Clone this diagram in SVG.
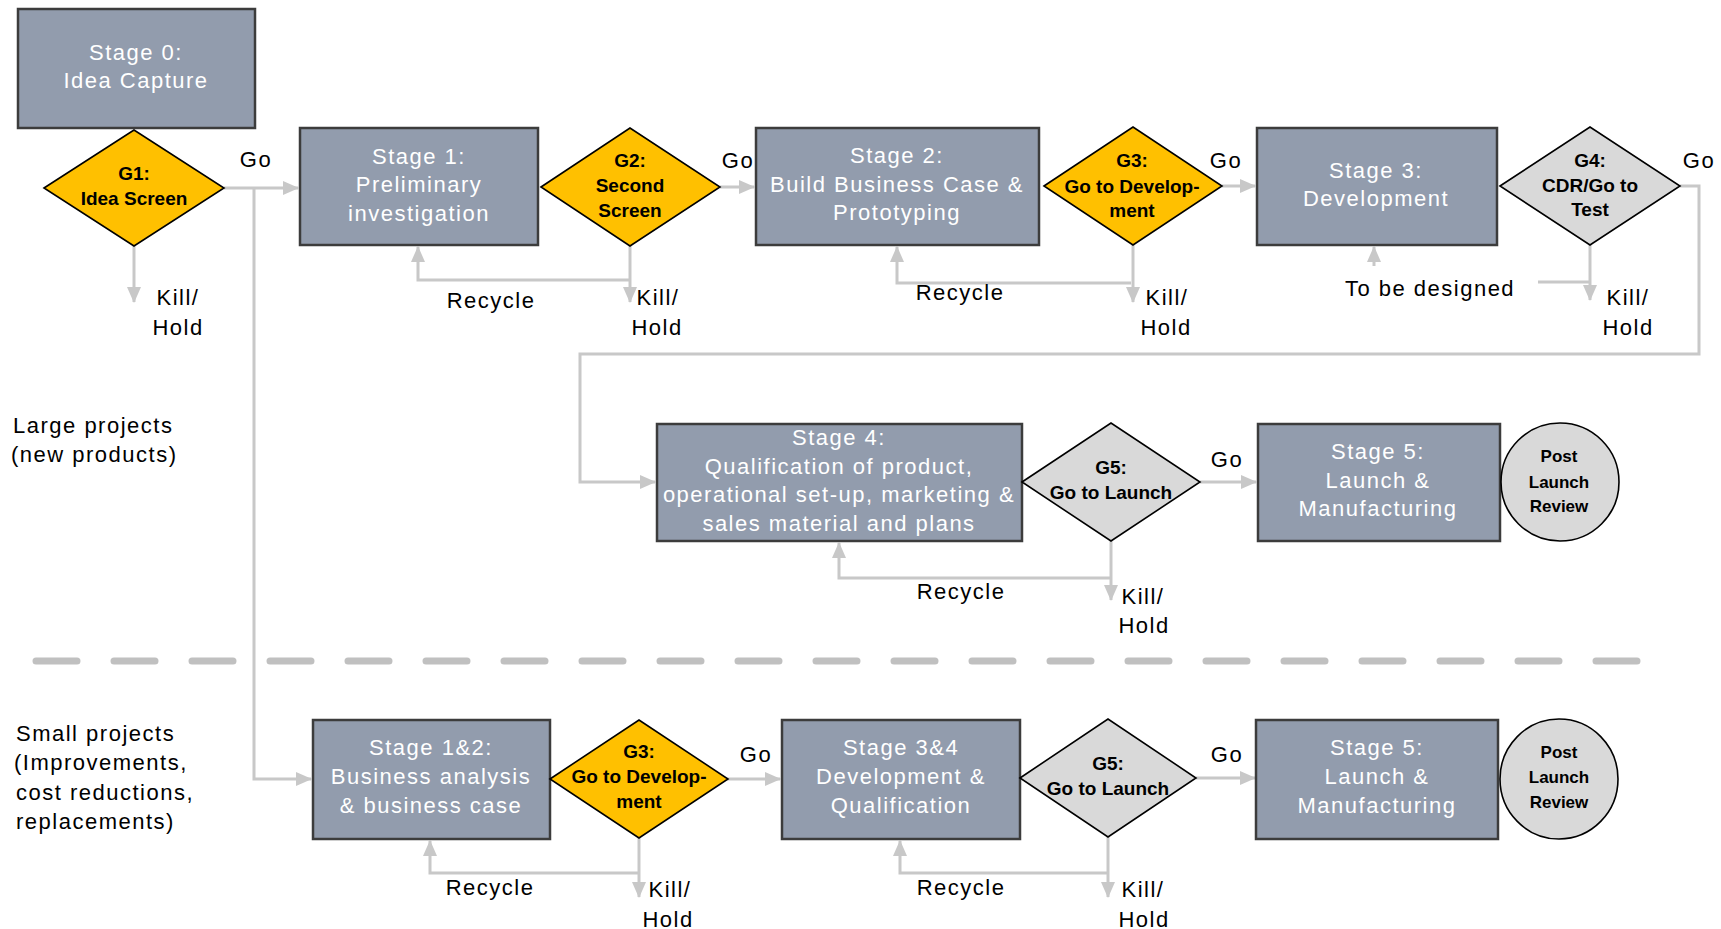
<svg xmlns="http://www.w3.org/2000/svg" width="1721" height="929" viewBox="0 0 1721 929">
<style>
.box{fill:#929cad;stroke:#3c3c3c;stroke-width:2.5}
.gate{fill:#ffc000;stroke:#000;stroke-width:1.6}
.ggate{fill:#d9d9d9;stroke:#000;stroke-width:1.6}
.circ{fill:#d9d9d9;stroke:#000;stroke-width:1.6}
.wt{font-family:"Liberation Sans",Arial,sans-serif;font-size:22px;letter-spacing:1.5px;fill:#fff;text-anchor:middle}
.gt{font-family:"Liberation Sans",Arial,sans-serif;font-size:19px;font-weight:bold;fill:#000;text-anchor:middle}
.ct{font-family:"Liberation Sans",Arial,sans-serif;font-size:17px;font-weight:bold;fill:#000;text-anchor:middle}
.lb{font-family:"Liberation Sans",Arial,sans-serif;font-size:22px;letter-spacing:1.5px;fill:#000;text-anchor:middle}
.lt{font-family:"Liberation Sans",Arial,sans-serif;font-size:22px;letter-spacing:1.5px;fill:#000}
.cn{fill:none;stroke:#c8c8c8;stroke-width:3}
.sep{fill:none;stroke:#c0c0c0;stroke-width:7;stroke-linecap:round;stroke-dasharray:41 37}
</style>
<defs>
<marker id="ah" markerUnits="userSpaceOnUse" markerWidth="16" markerHeight="14" refX="15" refY="7" orient="auto">
<path d="M0,0 L16,7 L0,14 z" fill="#c8c8c8"/>
</marker>
</defs>

<g id="labels">
<text class="lt" x="13" y="433">Large projects</text>
<text class="lt" x="11" y="462">(new products)</text>
<text class="lt" x="16" y="741">Small projects</text>
<text class="lt" x="14" y="770">(Improvements,</text>
<text class="lt" x="16" y="800">cost reductions,</text>
<text class="lt" x="16" y="829">replacements)</text>
</g>

<line id="separator" class="sep" x1="36" y1="661" x2="1645" y2="661"/>

<g id="connectors">
<!-- row 1 -->
<polyline class="cn" points="224,188 298,188" marker-end="url(#ah)"/>
<polyline class="cn" points="254,188 254,779 311,779" marker-end="url(#ah)"/>
<polyline class="cn" points="134,246 134,302" marker-end="url(#ah)"/>
<polyline class="cn" points="720,187 754,187" marker-end="url(#ah)"/>
<polyline class="cn" points="630,246 630,302" marker-end="url(#ah)"/>
<polyline class="cn" points="630,280 418,280 418,247" marker-end="url(#ah)"/>
<polyline class="cn" points="1222,186 1255,186" marker-end="url(#ah)"/>
<polyline class="cn" points="1133,245 1133,302" marker-end="url(#ah)"/>
<polyline class="cn" points="1131,283 897,283 897,247" marker-end="url(#ah)"/>
<polyline class="cn" points="1680,186 1699,186 1699,354 580,354 580,482 655,482" marker-end="url(#ah)"/>
<polyline class="cn" points="1590,245 1590,300" marker-end="url(#ah)"/>
<polyline class="cn" points="1538,282 1590,282"/>
<polyline class="cn" points="1374,266 1374,247" marker-end="url(#ah)"/>
<!-- row 2 -->
<polyline class="cn" points="1200,482 1256,482" marker-end="url(#ah)"/>
<polyline class="cn" points="1111,541 1111,600" marker-end="url(#ah)"/>
<polyline class="cn" points="1111,578 839,578 839,543" marker-end="url(#ah)"/>
<!-- row 3 -->
<polyline class="cn" points="727,779 780,779" marker-end="url(#ah)"/>
<polyline class="cn" points="639,837 639,897" marker-end="url(#ah)"/>
<polyline class="cn" points="639,873 430,873 430,841" marker-end="url(#ah)"/>
<polyline class="cn" points="1196,778 1255,778" marker-end="url(#ah)"/>
<polyline class="cn" points="1108,837 1108,897" marker-end="url(#ah)"/>
<polyline class="cn" points="1108,873 900,873 900,841" marker-end="url(#ah)"/>
</g>

<g id="connector-labels">
<text class="lb" x="256" y="167">Go</text>
<text class="lb" x="738" y="168">Go</text>
<text class="lb" x="1226" y="168">Go</text>
<text class="lb" x="1699" y="168">Go</text>
<text class="lb" x="1227" y="467">Go</text>
<text class="lb" x="756" y="762">Go</text>
<text class="lb" x="1227" y="762">Go</text>

<text class="lb" x="178" y="305">Kill/</text>
<text class="lb" x="178" y="335">Hold</text>
<text class="lb" x="658" y="305">Kill/</text>
<text class="lb" x="657" y="335">Hold</text>
<text class="lb" x="1167" y="305">Kill/</text>
<text class="lb" x="1166" y="335">Hold</text>
<text class="lb" x="1628" y="305">Kill/</text>
<text class="lb" x="1628" y="335">Hold</text>
<text class="lb" x="1143" y="604">Kill/</text>
<text class="lb" x="1144" y="633">Hold</text>
<text class="lb" x="670" y="897">Kill/</text>
<text class="lb" x="668" y="927">Hold</text>
<text class="lb" x="1143" y="897">Kill/</text>
<text class="lb" x="1144" y="927">Hold</text>

<text class="lb" x="491" y="308">Recycle</text>
<text class="lb" x="960" y="300">Recycle</text>
<text class="lb" x="961" y="599">Recycle</text>
<text class="lb" x="490" y="895">Recycle</text>
<text class="lb" x="961" y="895">Recycle</text>
<text class="lb" x="1430" y="296">To be designed</text>
</g>

<g id="stage0">
<rect class="box" x="18" y="9" width="237" height="119"/>
<text class="wt" x="136" y="60">Stage 0:</text>
<text class="wt" x="136" y="88">Idea Capture</text>
</g>

<g id="g1">
<polygon class="gate" points="44,188 134,130 224,188 134,246"/>
<text class="gt" x="134" y="180">G1:</text>
<text class="gt" x="134" y="205">Idea Screen</text>
</g>

<g id="stage1">
<rect class="box" x="300" y="128" width="238" height="117"/>
<text class="wt" x="419" y="164">Stage 1:</text>
<text class="wt" x="419" y="192">Preliminary</text>
<text class="wt" x="419" y="221">investigation</text>
</g>

<g id="g2">
<polygon class="gate" points="541,187 630,128 720,187 630,246"/>
<text class="gt" x="630" y="167">G2:</text>
<text class="gt" x="630" y="192">Second</text>
<text class="gt" x="630" y="217">Screen</text>
</g>

<g id="stage2">
<rect class="box" x="756" y="128" width="283" height="117"/>
<text class="wt" x="897" y="163">Stage 2:</text>
<text class="wt" x="897" y="192">Build Business Case &amp;</text>
<text class="wt" x="897" y="220">Prototyping</text>
</g>

<g id="g3">
<polygon class="gate" points="1044,186 1133,127 1222,186 1133,245"/>
<text class="gt" x="1132" y="167">G3:</text>
<text class="gt" x="1132" y="193">Go to Develop-</text>
<text class="gt" x="1132" y="217">ment</text>
</g>

<g id="stage3">
<rect class="box" x="1257" y="128" width="240" height="117"/>
<text class="wt" x="1376" y="178">Stage 3:</text>
<text class="wt" x="1376" y="206">Development</text>
</g>

<g id="g4">
<polygon class="ggate" points="1500,186 1590,127 1680,186 1590,245"/>
<text class="gt" x="1590" y="167">G4:</text>
<text class="gt" x="1590" y="192">CDR/Go to</text>
<text class="gt" x="1590" y="216">Test</text>
</g>

<g id="stage4">
<rect class="box" x="657" y="424" width="365" height="117"/>
<text class="wt" x="839" y="445">Stage 4:</text>
<text class="wt" x="839" y="474">Qualification of product,</text>
<text class="wt" x="839" y="502">operational set-up, marketing &amp;</text>
<text class="wt" x="839" y="531">sales material and plans</text>
</g>

<g id="g5">
<polygon class="ggate" points="1022,482 1111,423 1200,482 1111,541"/>
<text class="gt" x="1111" y="474">G5:</text>
<text class="gt" x="1111" y="499">Go to Launch</text>
</g>

<g id="stage5">
<rect class="box" x="1258" y="424" width="242" height="117"/>
<text class="wt" x="1378" y="459">Stage 5:</text>
<text class="wt" x="1378" y="488">Launch &amp;</text>
<text class="wt" x="1378" y="516">Manufacturing</text>
</g>

<g id="review1">
<ellipse class="circ" cx="1560" cy="482" rx="59" ry="59"/>
<text class="ct" x="1559" y="462">Post</text>
<text class="ct" x="1559" y="488">Launch</text>
<text class="ct" x="1559" y="512">Review</text>
</g>

<g id="stage12">
<rect class="box" x="313" y="720" width="237" height="119"/>
<text class="wt" x="431" y="755">Stage 1&amp;2:</text>
<text class="wt" x="431" y="784">Business analysis</text>
<text class="wt" x="431" y="813">&amp; business case</text>
</g>

<g id="g3-small">
<polygon class="gate" points="550,779 639,720 728,779 639,838"/>
<text class="gt" x="639" y="758">G3:</text>
<text class="gt" x="639" y="783">Go to Develop-</text>
<text class="gt" x="639" y="808">ment</text>
</g>

<g id="stage34">
<rect class="box" x="782" y="720" width="238" height="119"/>
<text class="wt" x="901" y="755">Stage 3&amp;4</text>
<text class="wt" x="901" y="784">Development &amp;</text>
<text class="wt" x="901" y="813">Qualification</text>
</g>

<g id="g5-small">
<polygon class="ggate" points="1020,778 1108,719 1196,778 1108,837"/>
<text class="gt" x="1108" y="770">G5:</text>
<text class="gt" x="1108" y="795">Go to Launch</text>
</g>

<g id="stage5-small">
<rect class="box" x="1256" y="720" width="242" height="119"/>
<text class="wt" x="1377" y="755">Stage 5:</text>
<text class="wt" x="1377" y="784">Launch &amp;</text>
<text class="wt" x="1377" y="813">Manufacturing</text>
</g>

<g id="review2">
<ellipse class="circ" cx="1559" cy="779" rx="59" ry="60"/>
<text class="ct" x="1559" y="758">Post</text>
<text class="ct" x="1559" y="783">Launch</text>
<text class="ct" x="1559" y="808">Review</text>
</g>
</svg>
